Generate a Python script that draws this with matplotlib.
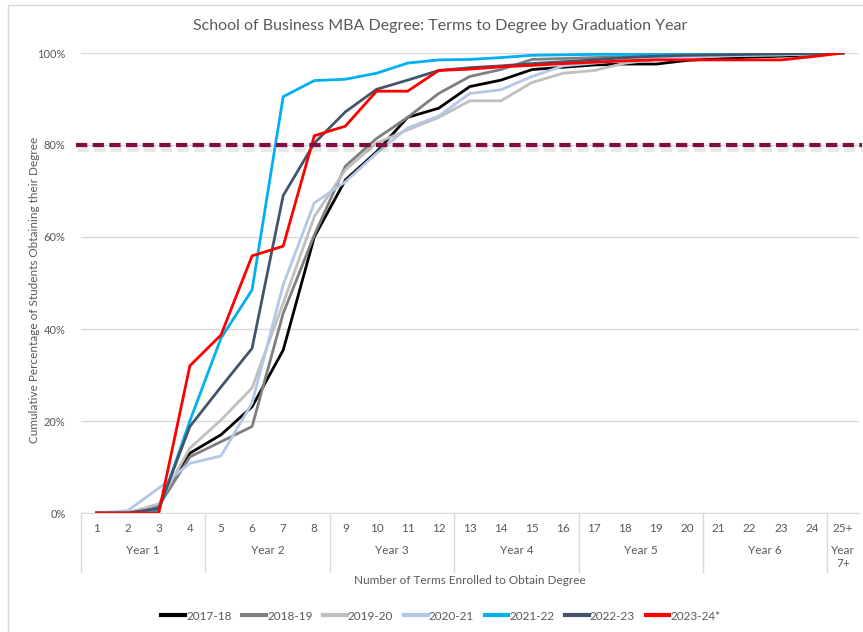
# Terms to degree chart for the MBA program, one line per graduation year

import matplotlib
matplotlib.use("Agg")
import matplotlib.pyplot as plt
import matplotlib.patheffects as pe
from matplotlib.patches import Rectangle

# data
terms = ["1", "2", "3", "4", "5", "6", "7", "8", "9", "10", "11", "12", "13",
         "14", "15", "16", "17", "18", "19", "20", "21", "22", "23", "24", "25+"]
years = ["Year 1", "Year 2", "Year 3", "Year 4", "Year 5", "Year 6", "Year\n7+"]
year_size = [4, 4, 4, 4, 4, 4, 1]

y_1718 = [0, 0, 1.7, 13, 17, 23.1, 35.4, 60, 72.4, 78.5, 86, 88, 92.7, 94.1, 96.4,
          96.9, 97.4, 97.6, 97.6, 98.4, 98.8, 99.1, 99.3, 99.6, 100]
y_1819 = [0, 0, 1.5, 12.2, 15.5, 18.8, 43.4, 60.4, 75.4, 81.4, 86, 91.2, 94.9, 96.4,
          98.6, 98.8, 99, 99.2, 99.4, 99.5, 99.6, 99.7, 99.8, 99.9, 100]
y_1920 = [0, 0, 2, 14.1, 20.2, 27.2, 45.6, 64.4, 74.6, 80.4, 83.3, 86, 89.6, 89.6,
          93.6, 95.6, 96.2, 97.8, 98.6, 99, 99.3, 99.5, 99.6, 99.8, 100]
y_2021 = [0, 0.5, 5.4, 10.8, 12.4, 23.9, 49.6, 67.4, 72, 78.2, 83.7, 86.3, 91.2, 92,
          94.9, 97.2, 97.8, 98.5, 99, 99.2, 99.4, 99.5, 99.6, 99.8, 100]
y_2122 = [0, 0, 0.5, 20, 38, 48.5, 90.5, 94, 94.3, 95.6, 97.8, 98.5, 98.6, 99, 99.5,
          99.6, 99.7, 99.7, 99.8, 99.8, 99.8, 99.9, 99.9, 99.9, 100]
y_2223 = [0, 0, 1, 18.8, 27.4, 35.8, 69, 80.4, 87.2, 92.1, 94.1, 96.2, 96.8, 97.2,
          97.7, 98.1, 98.5, 99, 99.3, 99.5, 99.6, 99.7, 99.8, 99.9, 100]
y_2324 = [0, 0, 0, 32, 38.7, 55.9, 58, 82, 84.1, 91.7, 91.7, 96.2, 96.5, 97, 97.3,
          97.7, 98, 98.3, 98.5, 98.5, 98.5, 98.5, 98.5, 99.2, 100]
target = 80

series = [("2017-18", y_1718, "#000000"),
          ("2018-19", y_1819, "#7f7f7f"),
          ("2019-20", y_1920, "#bfbfbf"),
          ("2020-21", y_2021, "#b4c7e7"),
          ("2021-22", y_2122, "#00b0f0"),
          ("2022-23", y_2223, "#44546a"),
          ("2023-24*", y_2324, "#ff0000")]

txt = "#595959"
plt.rcParams['font.family'] = ['Lato', 'DejaVu Sans']

fig = plt.figure(figsize=(8.63, 6.32), dpi=100)
ax = fig.add_axes([81/863, 1-513/632, (858.6-81)/863, 460/632])

xs = list(range(1, len(terms) + 1))

# grid and the 80% target line
ax.set_ylim(0, 100)
ax.set_xlim(0.5, len(terms) + 0.5)
ax.set_yticks([0, 20, 40, 60, 80, 100])
ax.set_yticklabels(["0%", "20%", "40%", "60%", "80%", "100%"])
ax.grid(axis='y', color="#d9d9d9", lw=1)
ax.set_axisbelow(True)

for name, vals, col in series:
    ax.plot(xs, vals, color=col, lw=2, label=name, solid_joinstyle='round')

ax.plot([0.34, len(terms) + 0.6], [target, target], color="#800d3d", lw=3,
        dashes=(2.7, 1.3), dash_capstyle='butt', clip_on=False, zorder=5,
        path_effects=[pe.SimpleLineShadow(offset=(0.8, -2.5), shadow_color='gray',
                                          alpha=0.18, linewidth=5),
                      pe.Normal()])

for s in ['top', 'right', 'left']:
    ax.spines[s].set_visible(False)
ax.spines['bottom'].set_color("#d9d9d9")
ax.tick_params(axis='y', length=0, pad=11, labelsize=8, labelcolor=txt)
ax.set_xticks([])

# two level category axis
tr = ax.get_xaxis_transform()
for x, lab in zip(xs, terms):
    ax.text(x, -15/460, lab, transform=tr, ha='center', va='center', fontsize=8.5, color=txt)
pos = 0.5
for lab, n in zip(years, year_size):
    ax.plot([pos, pos], [0, -59/460], transform=tr, color="#d9d9d9", lw=1, clip_on=False)
    if "\n" in lab:
        ax.text(pos + n/2, -44/460, lab, transform=tr, ha='center', va='center',
                fontsize=8.5, color=txt, linespacing=1.3)
    else:
        ax.text(pos + n/2, -37/460, lab, transform=tr, ha='center', va='center',
                fontsize=8.5, color=txt)
    pos += n

fig.text(470/863, 1-580/632, "Number of Terms Enrolled to Obtain Degree", ha='center',
         va='center', fontsize=8.5, color=txt)
fig.text(35/863, 1-290/632, "Cumulative Percentage of Students Obtaining their Degree",
         ha='center', va='center', rotation=90, fontsize=8.5, color=txt)
fig.text(440/863, 1-26/632, "School of Business MBA Degree: Terms to Degree by Graduation Year",
         ha='center', va='center', fontsize=11.5, color=txt)

leg = fig.legend(loc='center', bbox_to_anchor=(441/863, 1-616/632), ncol=7, frameon=False,
                 fontsize=8.5, handlelength=2.0, handletextpad=0.1, columnspacing=0.9,
                 labelcolor=txt)
for h in leg.legend_handles:
    h.set_linewidth(3)

# chart border
fig.patches.append(Rectangle((8/863, -0.1), 1.2, 1.1 - 5/632, transform=fig.transFigure,
                             fill=False, edgecolor="#d9d9d9", lw=1))

plt.savefig("out.png", dpi=100)
